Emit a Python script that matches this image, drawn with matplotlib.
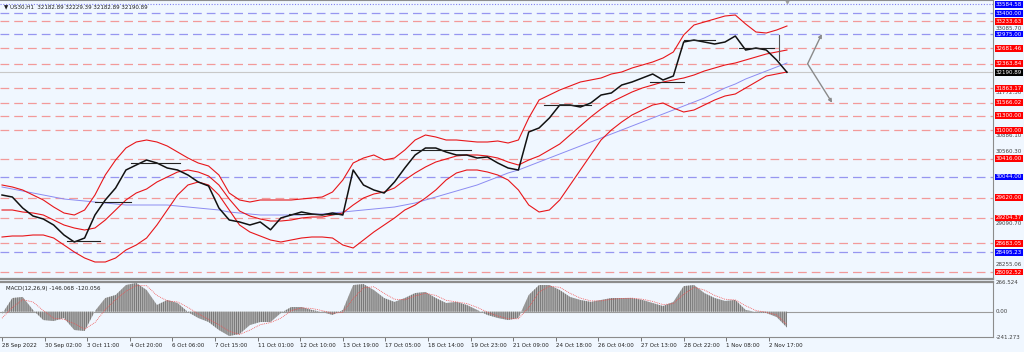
import numpy as np
import matplotlib
matplotlib.use("Agg")
import matplotlib.pyplot as plt
from matplotlib.transforms import blended_transform_factory

BG = "#F0F7FF"
plt.rcParams["hatch.linewidth"] = 0.6

# sample positions are hourly bar numbers, one sample every 8 bars
STEP = 8

# closes (US30 H1)
close = [29673, 29632, 29407, 29243, 29181, 29058, 28853, 28709, 28791, 29263,
         29571, 29817, 30186, 30289, 30391, 30330, 30227, 30186, 30084, 29940,
         29858, 29407, 29161, 29120, 29058, 29120, 28960, 29202, 29263, 29325,
         29284, 29263, 29304, 29263, 30186, 29878, 29776, 29714, 29940, 30227,
         30494, 30637, 30637, 30555, 30494, 30494, 30432, 30453, 30330, 30227,
         30186, 30966, 31048, 31253, 31519, 31519, 31478, 31560, 31724, 31766,
         31929, 31991, 32073, 32155, 32032, 32114, 32811, 32852, 32811, 32770,
         32811, 32934, 32647, 32688, 32647, 32442, 32191]

# bollinger bands, in chart pixel rows (converted below)
bb_up_px = [185, 187, 190, 195, 200, 207, 213, 215, 210, 195, 175, 160, 148, 142, 140, 142,
            146, 152, 158, 163, 166, 175, 193, 200, 202, 200, 200, 200, 200, 199, 198, 197,
            192, 180, 163, 158, 155, 160, 158, 150, 140, 135, 137, 140, 140, 141, 142, 142,
            141, 143, 140, 118, 100, 95, 90, 86, 82, 80, 78, 74, 72, 68, 65, 62, 58, 52,
            35, 25, 22, 19, 16, 15, 24, 32, 33, 30, 26]
bb_mid_px = [210, 210, 212, 213, 215, 220, 225, 228, 230, 228, 220, 210, 200, 193, 189, 182,
             177, 172, 170, 172, 176, 185, 199, 211, 216, 219, 221, 221, 220, 218, 217, 217,
             215, 213, 205, 198, 194, 192, 188, 180, 173, 167, 162, 159, 156, 155, 155, 156,
             158, 162, 165, 160, 156, 150, 144, 135, 126, 117, 109, 102, 97, 92, 88, 85, 82, 80,
             78, 75, 71, 68, 65, 63, 60, 57, 54, 52, 50]
bb_low_px = [237, 236, 236, 235, 235, 238, 245, 252, 258, 262, 262, 258, 250, 245, 238, 225,
             210, 195, 185, 182, 185, 195, 210, 225, 232, 236, 240, 242, 240, 238, 237, 237,
             238, 245, 248, 240, 232, 225, 218, 210, 205, 198, 190, 180, 173, 170, 170, 172,
             175, 180, 190, 205, 212, 210, 200, 185, 170, 155, 140, 130, 122, 115, 110, 105,
             103, 108, 112, 110, 105, 100, 96, 94, 88, 82, 76, 74, 72]
ma_px = [187, 189, 191, 193, 195, 197, 199, 200, 201, 202, 203, 204, 205, 205, 205, 205,
         205, 206, 207, 208, 209, 210, 212, 213, 214, 215, 215, 215, 215, 215, 214, 214,
         213, 212, 211, 210, 209, 208, 207, 205, 203, 200, 197, 194, 191, 188, 185, 181,
         177, 173, 170, 166, 162, 158, 154, 150, 146, 142, 138, 134, 130, 126, 122, 118,
         114, 110, 106, 102, 98, 93, 88, 84, 79, 75, 71, 67, 63]

# MACD(12,26,9)
macd_hist = [-21, 126, 136, 16, -77, -86, -58, -169, -178, 6, 126, 154, 246, 265, 200, 62,
             108, 80, -3, -58, -95, -169, -224, -206, -123, -95, -95, -12, 43, 43, 16, -3,
             -30, 16, 246, 255, 200, 126, 90, 126, 172, 182, 126, 80, 90, 62, 16, -30, -58,
             -77, -58, 154, 246, 246, 200, 136, 108, 90, 108, 126, 126, 126, 108, 80, 52, 90,
             236, 246, 172, 126, 99, 108, 16, -3, -12, -49, -146]
macd_sig = [-60, 40, 110, 90, 10, -60, -70, -110, -160, -100, 20, 110, 190, 240, 240, 150,
            100, 90, 40, -20, -70, -120, -180, -210, -170, -120, -100, -60, 10, 35, 30, 10,
            -15, -5, 120, 220, 230, 170, 115, 110, 145, 170, 150, 105, 90, 75, 40, -5, -40,
            -65, -65, 40, 180, 235, 225, 170, 125, 100, 100, 115, 122, 125, 115, 95, 65, 75,
            160, 225, 200, 150, 115, 108, 55, 10, -5, -30, -120]

red_levels = [33233.63, 32681.46, 32363.84, 31863.17, 31566.02, 31300.00, 31000.00,
              30416.00, 29620.00, 29204.37, 28683.05, 28092.52]
blue_levels = [33400.00, 32975.00, 30044.00, 28495.23]
top_level = 33584.58
last_price = 32190.89
grid_prices = [33085.70, 31772.50, 30886.10, 30560.30, 29090.70, 28255.06]

# short horizontal drawings: (from bar, to bar, price)
segments = [(50, 76, 28730), (72, 100, 29530), (100, 138, 30330), (222, 262, 29280),
            (317, 363, 30600), (420, 456, 31520), (502, 528, 32000), (528, 552, 32850),
            (571, 598, 32690)]
arrow_base = (624, 32363.84)
arrow_tips = [(635, 32975.00), (643, 31566.02)]

tick_bars = list(range(0, 595, 33))
tick_labels = ["28 Sep 2022", "30 Sep 02:00", "3 Oct 11:00", "4 Oct 20:00", "6 Oct 06:00",
               "7 Oct 15:00", "11 Oct 01:00", "12 Oct 10:00", "13 Oct 19:00", "17 Oct 05:00",
               "18 Oct 14:00", "19 Oct 23:00", "21 Oct 09:00", "24 Oct 18:00", "26 Oct 04:00",
               "27 Oct 13:00", "28 Oct 22:00", "1 Nov 08:00", "2 Nov 17:00"]


def px_to_price(rows):
    return 33672.8 - 20.51 * np.asarray(rows, dtype=float)


x = np.arange(len(close)) * STEP

fig = plt.figure(figsize=(10.24, 3.52), dpi=100, facecolor=BG)
ax = fig.add_axes([0, 73 / 352, 993 / 1024, 279 / 352], facecolor=BG)
am = fig.add_axes([0, 15 / 352, 993 / 1024, 55 / 352], facecolor=BG)

xlim = (-1.55, 767.6)
for a in (ax, am):
    a.set_xlim(*xlim)
    for s in a.spines.values():
        s.set_color("#8c8c8c")
        s.set_linewidth(0.8)
    a.spines["left"].set_visible(False)
    a.tick_params(axis="y", length=0, labelleft=False)
ax.tick_params(axis="x", length=0, labelbottom=False)
ax.spines["bottom"].set_linewidth(1.6)
am.spines["top"].set_linewidth(1.6)
ax.set_ylim(px_to_price(279), px_to_price(0))
am.set_ylim(-233.5, 274)

# levels
for p in red_levels:
    ax.axhline(p, color="#F29A9A", lw=0.9, dashes=(7, 4), zorder=1)
for p in blue_levels:
    ax.axhline(p, color="#9696F0", lw=0.9, dashes=(7, 4), zorder=1)
ax.axhline(top_level, color="#8080F0", lw=0.8, ls=(0, (1, 1.5)), zorder=1)
ax.axhline(last_price, color="#C8C8C8", lw=0.8, zorder=1)

# indicators
ax.plot(x, px_to_price(ma_px), color="#8C8CF2", lw=0.7, zorder=2)
ax.plot(x, px_to_price(bb_up_px), color="#E8161A", lw=0.8, zorder=3)
ax.plot(x, px_to_price(bb_mid_px), color="#E8161A", lw=0.8, zorder=3)
ax.plot(x, px_to_price(bb_low_px), color="#E8161A", lw=0.8, zorder=3)

# price
ax.plot(x, close, color="#111111", lw=1.1, zorder=4)
for b0, b1, p in segments:
    ax.plot([b0, b1], [p, p], color="#222222", lw=0.8, zorder=4)
ax.plot([602, 602], [32950, 32450], color="#555555", lw=0.8, zorder=4)

for tx, ty in arrow_tips:
    ax.annotate("", xy=(tx, ty), xytext=arrow_base,
                arrowprops=dict(arrowstyle="-|>", color="#8a8a8a", lw=1.0,
                                mutation_scale=5, shrinkA=0, shrinkB=0), zorder=5)
ax.plot([x[-1]], [px_to_price(0.5)], marker="v", color="#a0a0a0", ms=3, clip_on=False)

# right side labels
tr = blended_transform_factory(ax.transAxes, ax.transData)
lab = dict(fontsize=4, va="center", ha="left", transform=tr, clip_on=False)
for p in grid_prices:
    ax.text(1.003, p, f"{p:.2f}", color="#404040", **lab)
for p in red_levels:
    ax.text(1.003, p, f"{p:.2f}", color="white",
            bbox=dict(boxstyle="square,pad=0.15", fc="#FF0000", ec="#FF0000", lw=0), **lab)
for p in blue_levels + [top_level]:
    ax.text(1.003, p, f"{p:.2f}", color="white",
            bbox=dict(boxstyle="square,pad=0.15", fc="#0000FF", ec="#0000FF", lw=0), **lab)
ax.text(1.003, last_price, f"{last_price:.2f}", color="white",
        bbox=dict(boxstyle="square,pad=0.15", fc="#000000", ec="#000000", lw=0), **lab)

ax.text(0.004, 0.985, "\u25bc US30,H1  32182.89 32229.39 32182.89 32190.89",
        transform=ax.transAxes, fontsize=4, va="top", color="#202020")

# MACD panel
am.fill_between(x, 0, macd_hist, facecolor="#B4B4B4", edgecolor="#6E6E6E",
                hatch="||||||||", linewidth=0, zorder=2)
am.axhline(0, color="#9C9C9C", lw=0.8, zorder=1)
am.plot(x, macd_sig, color="#F05050", lw=0.6, ls=(0, (1, 1.2)), zorder=3)
am.text(0.006, 0.93, "MACD(12,26,9) -146.068 -120.056", transform=am.transAxes,
        fontsize=4, va="top", color="#202020")
trm = blended_transform_factory(am.transAxes, am.transData)
for v, s in [(266.524, "266.524"), (0, "0.00"), (-241.273, "-241.273")]:
    am.text(1.003, v, s, fontsize=4, va="center", ha="left", color="#404040",
            transform=trm, clip_on=False)

am.set_xticks(tick_bars)
am.set_xticklabels(tick_labels, fontsize=4, ha="left", color="#202020")
am.tick_params(axis="x", length=3, width=0.6, color="#606060", pad=1)

fig.savefig("out.png", dpi=100, facecolor=BG)
